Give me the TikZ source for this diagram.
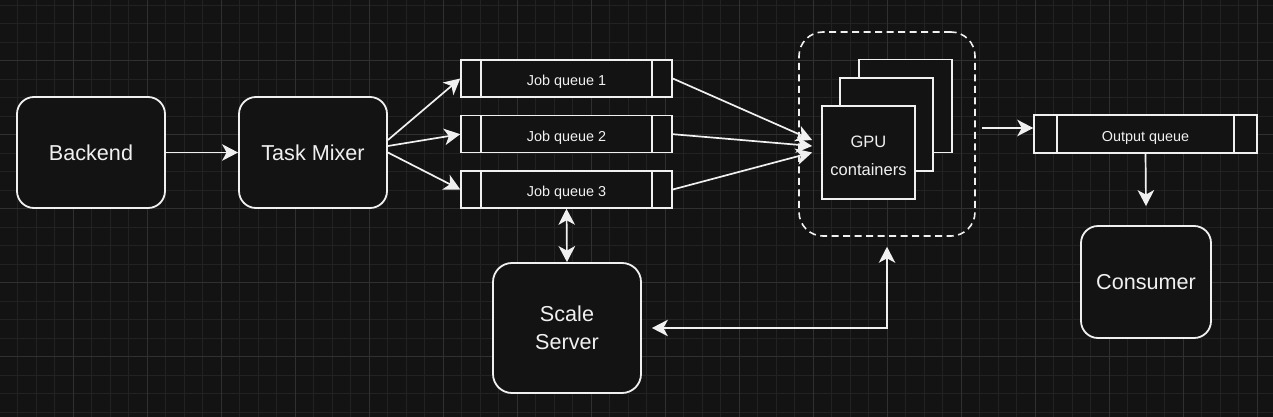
\documentclass[tikz,border=0pt]{standalone}
\usepackage{fontspec}
\setmainfont{Liberation Sans}
\usetikzlibrary{arrows.meta,calc}
\definecolor{bg}{HTML}{131313}
\definecolor{gminor}{HTML}{222222}
\definecolor{gmajor}{HTML}{303030}
\definecolor{fg}{HTML}{F0F0F0}
\tikzset{
  box/.style={draw=fg,fill=bg,line width=1.8pt,rounded corners=17pt,text=fg,
    font=\fontsize{21.6}{28.3}\selectfont,align=center,inner sep=0pt},
  queue/.style={draw=fg,fill=bg,line width=1.5pt,text=fg,inner sep=0pt,
    font=\fontsize{14.4}{17}\selectfont,
    path picture={\draw[fg,line width=1.5pt]
      ([xshift=#1]path picture bounding box.north west) -- ([xshift=#1]path picture bounding box.south west)
      ([xshift=-#1]path picture bounding box.north east) -- ([xshift=-#1]path picture bounding box.south east);}},
  gpu/.style={draw=fg,fill=bg,line width=1.8pt,minimum width=93pt,minimum height=93pt,inner sep=0pt},
  tip/.tip={Stealth[length=16pt,width=16.5pt,inset=4.5pt]},
  arr/.style={draw=fg,line width=1.7pt,-tip},
  darr/.style={draw=fg,line width=1.7pt,tip-tip},
}
\newcommand{\qtext}[2]{\raisebox{-#1}[0pt][0pt]{#2}}
\begin{document}
\begin{tikzpicture}[x=1pt,y=-1pt]
\useasboundingbox (0,0) rectangle (1273,417);
\fill[bg] (0,0) rectangle (1273,417);
% grid
\foreach \k in {0,...,69}{\pgfmathsetmacro\xx{-1+18.5*\k}\draw[gminor,line width=1pt] (\xx,0) -- (\xx,417);}
\foreach \k in {1,...,23}{\pgfmathsetmacro\yy{-13.3+18.5*\k}\draw[gminor,line width=1pt] (0,\yy) -- (1273,\yy);}
\foreach \k in {0,4,...,68}{\pgfmathsetmacro\xx{-1+18.5*\k}\draw[gmajor,line width=1pt] (\xx,0) -- (\xx,417);}
\foreach \k in {4,8,...,20}{\pgfmathsetmacro\yy{-13.3+18.5*\k}\draw[gmajor,line width=1pt] (0,\yy) -- (1273,\yy);}

% nodes
\node[box,minimum width=148pt,minimum height=111pt] (backend) at (91,152.5) {Backend};
\node[box,minimum width=148pt,minimum height=111pt] (mixer) at (313,152.5) {Task Mixer};
\node[queue=20pt,minimum width=211pt,minimum height=37pt] (q1) at (566.5,78.5) {\qtext{7pt}{Job queue 1}};
\node[queue=20pt,minimum width=211pt,minimum height=37pt] (q2) at (566.5,134.2) {\qtext{7pt}{Job queue 2}};
\node[queue=20pt,minimum width=211pt,minimum height=37pt] (q3) at (566.5,189.5) {\qtext{7pt}{Job queue 3}};
\node[draw=fg,line width=1.6pt,dash pattern=on 7pt off 4.5pt,rounded corners=24pt,minimum width=176pt,minimum height=204pt] (pool) at (887,134) {};
\node[gpu] (g3) at (905.5,106) {};
\node[gpu] (g2) at (886.5,124.5) {};
\node[gpu,text=fg,align=center,font=\fontsize{16.5}{27.3}\selectfont] (g1) at (868.5,152.5) {\rule{0pt}{17.9pt}GPU\\containers};
\node[queue=23pt,minimum width=223pt,minimum height=38pt] (outq) at (1145.5,134) {\qtext{8pt}{Output queue}};
\node[box,minimum width=130pt,minimum height=112pt] (consumer) at (1146,282) {Consumer};
\node[box,rounded corners=19pt,minimum width=148pt,minimum height=130pt] (scale) at (567,328) {Scale\\Server};

% connectors
\draw[arr] (backend.east) -- (mixer.west);
\draw[arr] ($(mixer.east)+(0,-12.5)$) -- (q1.west);
\draw[arr] ($(mixer.east)+(0,-6.5)$) -- (q2.west);
\draw[arr] (mixer.east) -- (q3.west);
\draw[arr] (q1.east) -- ($(g1.west)+(-9,-12.5)$);
\draw[arr] (q2.east) -- ($(g1.west)+(-9,-6.5)$);
\draw[arr] (q3.east) -- ($(g1.west)+(-9,0)$);
\draw[arr] ($(pool.east)+(6,-6)$) -- ($(outq.west)+(0,-6)$);
\draw[arr] (outq.south) -- ($(consumer.north)+(0,-19)$);
\draw[darr] (q3.south) -- (scale.north);
\draw[darr] ($(pool.south)+(0,10)$) |- ($(scale.east)+(10,0)$);
\end{tikzpicture}
\end{document}
